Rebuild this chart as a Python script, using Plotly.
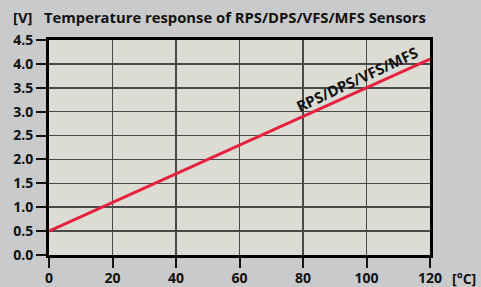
import plotly.graph_objects as go

temps = [0, 120]
volts = [0.5, 4.1]
x_ticks = [0, 20, 40, 60, 80, 100, 120]
y_ticks = [0.0, 0.5, 1.0, 1.5, 2.0, 2.5, 3.0, 3.5, 4.0, 4.5]
y_tick_text = ["0.0", "0.5", "1.0", "1.5", "2.0", "2.5", "3.0", "3.5", "4.0", "4.5"]
series_name = "RPS/DPS/VFS/MFS"
unit_y = "[V]"
title = "Temperature response of RPS/DPS/VFS/MFS Sensors"

font = "Open Sans"
tick_font = dict(family=font, size=14, color="#111")

fig = go.Figure()
fig.add_trace(go.Scatter(x=temps, y=volts, mode="lines",
                         line=dict(color="#e8203f", width=3), showlegend=False,
                         hoverinfo="skip"))

fig.add_annotation(x=97, y=3.68, text="<b>" + series_name + "</b>", showarrow=False,
                   textangle=-25, font=dict(family=font, size=15, color="#111"))
fig.add_annotation(x=1.0, y=0, xref="paper", yref="paper", xanchor="left", yanchor="top",
                   xshift=20, yshift=-12, text="<b>[°C]</b>", showarrow=False,
                   font=dict(family=font, size=14, color="#111"))
fig.add_annotation(x=0, y=1, xref="paper", yref="paper", xanchor="left", yanchor="middle",
                   xshift=-38, yshift=23,
                   text="<b>" + unit_y + "&nbsp;&nbsp;&nbsp;" + title + "</b>", showarrow=False,
                   font=dict(family=font, size=14.8, color="#111"))

axis_common = dict(ticks="outside", ticklen=10, tickwidth=2, tickcolor="#111",
                   showgrid=True, gridcolor="#4a4a4a", gridwidth=1.5,
                   showline=True, linecolor="#000", linewidth=3, mirror=True, zeroline=False,
                   tickfont=tick_font, fixedrange=True, automargin=False)

fig.update_layout(
    template="none",
    width=481, height=287,
    margin=dict(l=49, r=51, t=40, b=32),
    paper_bgcolor="#c9cacc",
    plot_bgcolor="#dcdcd4",
    hovermode=False,
    xaxis=dict(range=[0, 120], tickvals=x_ticks, ticktext=["<b>%d</b>" % v for v in x_ticks],
               ticklabelstandoff=-2, **axis_common),
    yaxis=dict(range=[0, 4.5], tickvals=y_ticks, ticktext=["<b>" + t + "</b>" for t in y_tick_text],
               **axis_common),
)
fig.write_html("out.html", config={"displayModeBar": False, "staticPlot": True},
               post_script="document.body.style.margin='0';document.body.style.overflow='hidden';")
